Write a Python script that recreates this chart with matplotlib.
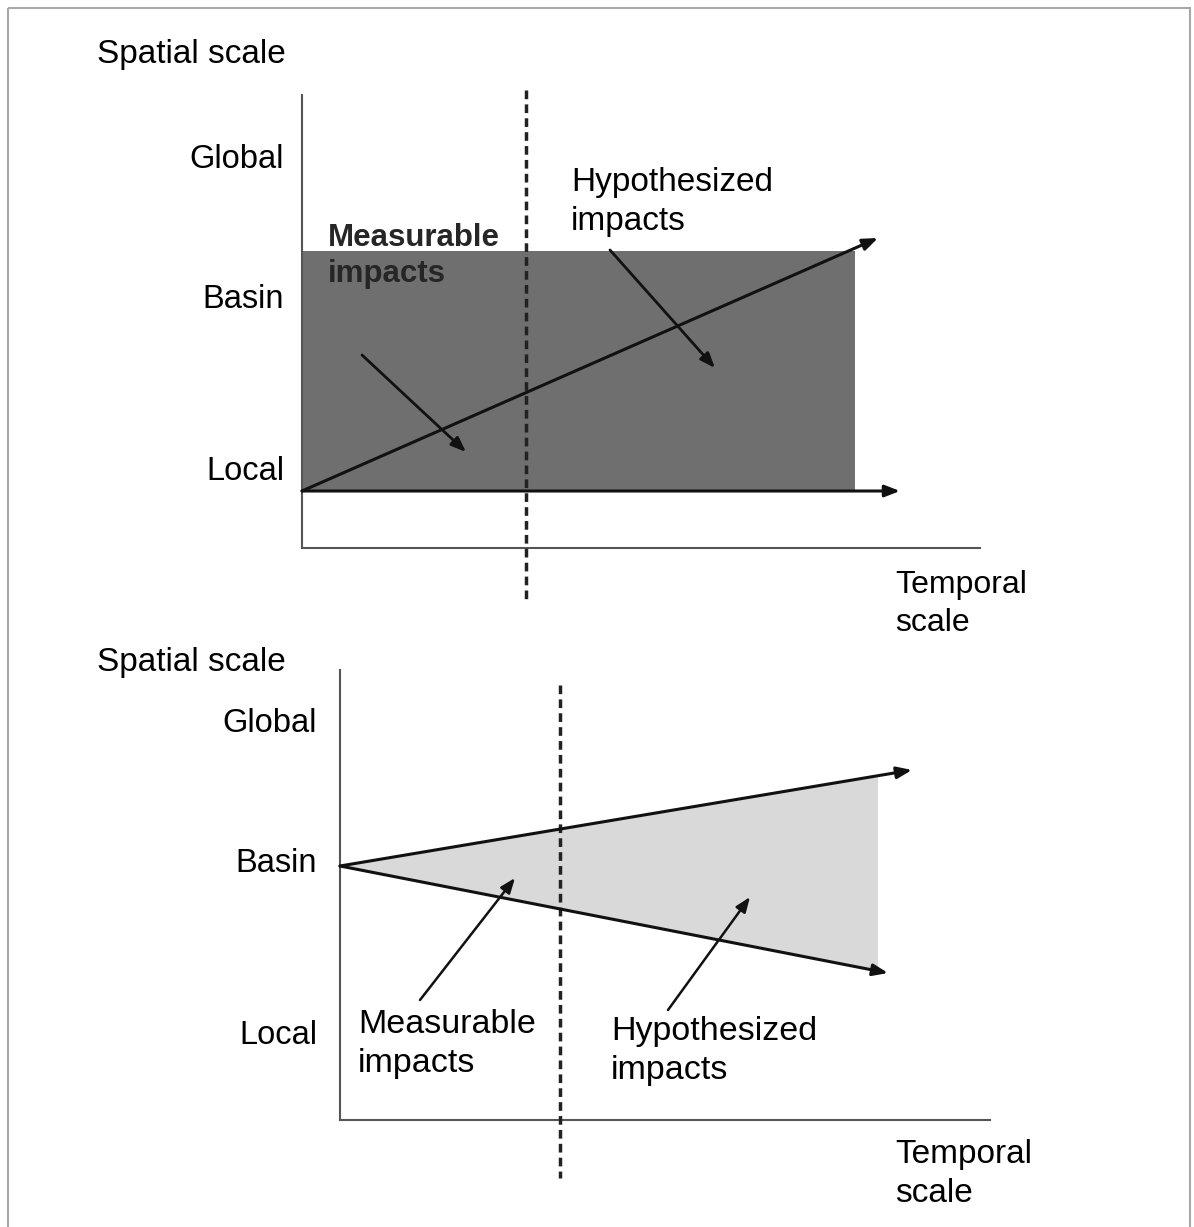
import numpy as np
import matplotlib
matplotlib.use("Agg")
import matplotlib.pyplot as plt
from matplotlib.patches import Rectangle, Polygon

plt.rcParams['font.family'] = ['Liberation Sans', 'DejaVu Sans']

# figure is laid out in pixel units (x to the right, y downwards)
W, H = 1194, 1227

# ---- top panel: rectangular region of impacts ----
top_yaxis_x = [302, 302]
top_yaxis_y = [95, 548]
top_xaxis_x = [302, 980]
top_xaxis_y = [548, 548]
top_rect_x = [302, 855]      # left, right
top_rect_y = [251, 491]      # top, bottom
top_trend_x = [302, 878]
top_trend_y = [491, 238]
top_base_x = [302, 900]
top_base_y = [491, 491]
top_dash_x = 526
top_dash_y = [90, 602]
top_levels = ["Global", "Basin", "Local"]
top_level_y = [160, 300, 472]
top_level_x = 284

# ---- bottom panel: widening cone ----
bot_yaxis_x = [340, 340]
bot_yaxis_y = [670, 1120]
bot_xaxis_x = [340, 990]
bot_xaxis_y = [1120, 1120]
bot_apex = (340, 866)
bot_upper_end = (912, 770)
bot_lower_end = (888, 973)
bot_fill_right = 878
bot_dash_x = 560
bot_dash_y = [685, 1178]
bot_levels = ["Global", "Basin", "Local"]
bot_level_y = [723, 863, 1035]
bot_level_x = 317

fill_dark = "#6f6f6f"
fill_light = "#d9d9d9"

fig = plt.figure(figsize=(W / 100, H / 100), dpi=100)
ax = fig.add_axes([0, 0, 1, 1])
ax.set_xlim(0, W)
ax.set_ylim(H, 0)
ax.axis("off")

# outer frame
ax.add_patch(Rectangle((8, 8), W - 12, H - 4, fill=False, ec="#a8a8a8", lw=1.5))

def arrow(x0, y0, x1, y1, lw=2.2):
    ax.annotate("", xy=(x1, y1), xytext=(x0, y0),
                arrowprops=dict(arrowstyle="-|>,head_length=0.9,head_width=0.35",
                                color="#111111", lw=lw, shrinkA=0, shrinkB=0))

# ---- top panel ----
ax.add_patch(Rectangle((top_rect_x[0], top_rect_y[0]),
                       top_rect_x[1] - top_rect_x[0], top_rect_y[1] - top_rect_y[0],
                       fc=fill_dark, ec="none", zorder=1))
ax.plot(top_yaxis_x, top_yaxis_y, color="#555555", lw=1.5, zorder=2)
ax.plot(top_xaxis_x, top_xaxis_y, color="#555555", lw=1.5, zorder=2)
ax.plot([top_dash_x, top_dash_x], top_dash_y, color="#222222", lw=2.5,
        ls=(0, (2.5, 1.5)), zorder=3)
arrow(top_trend_x[0], top_trend_y[0], top_trend_x[1], top_trend_y[1])
arrow(top_base_x[0], top_base_y[0], top_base_x[1], top_base_y[1])
arrow(362, 355, 466, 452, lw=2)
arrow(610, 250, 715, 368, lw=2)

ax.text(97, 55, "Spatial scale", fontsize=24, va="center", ha="left")
for lab, y in zip(top_levels, top_level_y):
    ax.text(top_level_x, y, lab, fontsize=23.5, va="center", ha="right")
ax.text(328, 256, "Measurable\nimpacts", fontsize=22.5, va="center", ha="left",
        color="#262626", fontweight="bold", linespacing=1.3, zorder=4)
ax.text(571, 202, "Hypothesized\nimpacts", fontsize=24, va="center", ha="left",
        linespacing=1.3)
ax.text(895, 604, "Temporal\nscale", fontsize=23, va="center", ha="left",
        linespacing=1.35)

# ---- bottom panel ----
ax0, ay0 = bot_apex
su = (bot_upper_end[1] - ay0) / (bot_upper_end[0] - ax0)
sl = (bot_lower_end[1] - ay0) / (bot_lower_end[0] - ax0)
dx = bot_fill_right - ax0
cone = Polygon([(ax0, ay0), (bot_fill_right, ay0 + su * dx),
                (bot_fill_right, ay0 + sl * dx)], closed=True,
               fc=fill_light, ec="none", zorder=1)
ax.add_patch(cone)
ax.plot(bot_yaxis_x, bot_yaxis_y, color="#555555", lw=1.5, zorder=2)
ax.plot(bot_xaxis_x, bot_xaxis_y, color="#555555", lw=1.5, zorder=2)
ax.plot([bot_dash_x, bot_dash_x], bot_dash_y, color="#222222", lw=2.5,
        ls=(0, (2.5, 1.5)), zorder=3)
arrow(ax0, ay0, bot_upper_end[0], bot_upper_end[1])
arrow(ax0, ay0, bot_lower_end[0], bot_lower_end[1])
arrow(420, 1000, 515, 878, lw=1.8)
arrow(668, 1010, 750, 897, lw=1.8)

ax.text(97, 662, "Spatial scale", fontsize=24, va="center", ha="left")
for lab, y in zip(bot_levels, bot_level_y):
    ax.text(bot_level_x, y, lab, fontsize=23.5, va="center", ha="right")
ax.text(358, 1044, "Measurable\nimpacts", fontsize=24.5, va="center", ha="left",
        linespacing=1.3)
ax.text(611, 1051, "Hypothesized\nimpacts", fontsize=24.5, va="center", ha="left",
        linespacing=1.3)
ax.text(895, 1174, "Temporal\nscale", fontsize=24, va="center", ha="left",
        linespacing=1.3)

fig.savefig("out.png", dpi=100, facecolor="white")
